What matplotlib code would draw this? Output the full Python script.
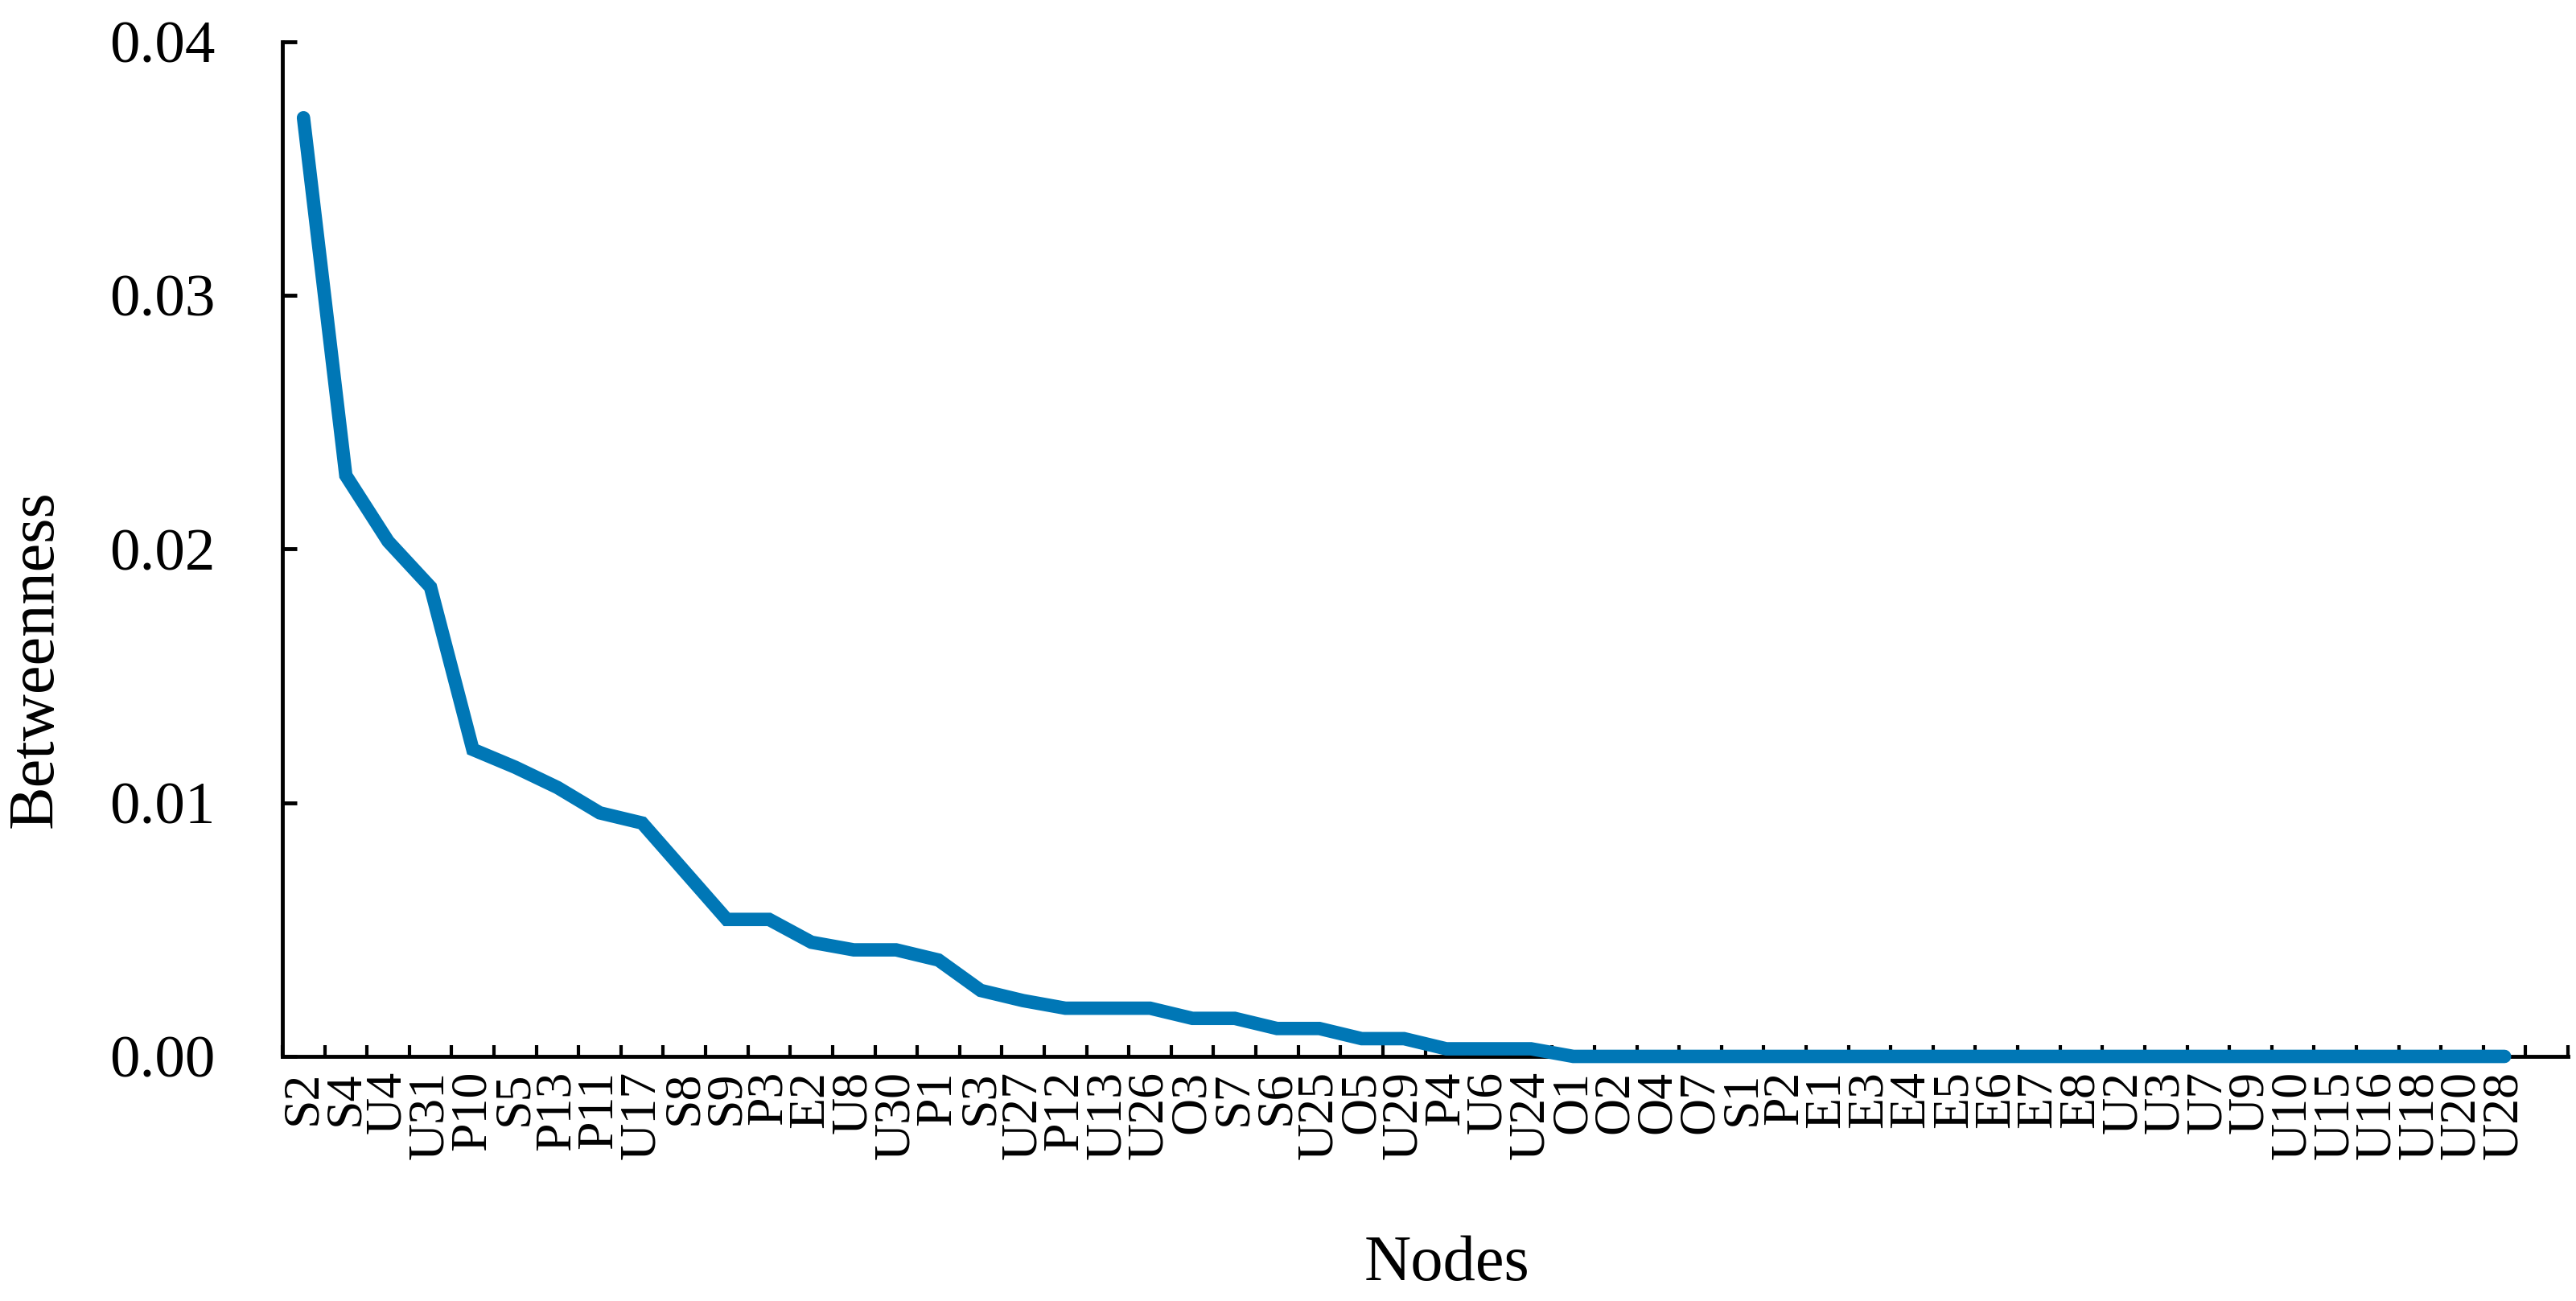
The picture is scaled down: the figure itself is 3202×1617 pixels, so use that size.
import numpy as np
import matplotlib
matplotlib.use("Agg")
import matplotlib.pyplot as plt

plt.rcParams['font.family'] = ['Liberation Serif', 'DejaVu Serif']

# node labels, in the order shown on the x axis
nodes = ['S2', 'S4', 'U4', 'U31', 'P10', 'S5', 'P13', 'P11', 'U17', 'S8',
         'S9', 'P3', 'E2', 'U8', 'U30', 'P1', 'S3', 'U27', 'P12', 'U13',
         'U26', 'O3', 'S7', 'S6', 'U25', 'O5', 'U29', 'P4', 'U6', 'U24',
         'O1', 'O2', 'O4', 'O7', 'S1', 'P2', 'E1', 'E3', 'E4', 'E5',
         'E6', 'E7', 'E8', 'U2', 'U3', 'U7', 'U9', 'U10', 'U15', 'U16',
         'U18', 'U20', 'U28']

# betweenness values
betweenness = [0.0370, 0.0229, 0.0203, 0.0185, 0.0121, 0.0114, 0.0106, 0.0096, 0.0092, 0.0073,
               0.0054, 0.0054, 0.0045, 0.0042, 0.0042, 0.0038, 0.0026, 0.0022, 0.0019, 0.0019,
               0.0019, 0.0015, 0.0015, 0.0011, 0.0011, 0.0007, 0.0007, 0.0003, 0.0003, 0.0003,
               0.0, 0.0, 0.0, 0.0, 0.0, 0.0, 0.0, 0.0, 0.0, 0.0,
               0.0, 0.0, 0.0, 0.0, 0.0, 0.0, 0.0, 0.0, 0.0, 0.0,
               0.0, 0.0, 0.0]

y_ticks = [0.00, 0.01, 0.02, 0.03, 0.04]

fig = plt.figure(figsize=(32.02, 16.17), dpi=100)
ax = fig.add_axes([0.1096, 0.188, 0.8873, 0.780])

x = np.arange(len(nodes))
ax.plot(x, betweenness, color='#0077b6', lw=12, solid_joinstyle='miter',
        solid_capstyle='round', zorder=3, clip_on=False)

n_slots = len(nodes) + 1  # axis runs one empty slot past the last node
ax.set_xlim(-0.5, n_slots - 0.5)
ax.set_ylim(0, 0.04)

for s in ['top', 'right']:
    ax.spines[s].set_visible(False)
for s in ['left', 'bottom']:
    ax.spines[s].set_linewidth(3.5)

# tick marks between categories, labels at centres
ax.set_xticks(np.arange(-0.5, n_slots, 1.0))
ax.set_xticklabels([])
ax.set_xticks(x, minor=True)
ax.set_xticklabels(nodes, minor=True, rotation=90, fontsize=46)
ax.tick_params(axis='x', which='major', direction='in', length=10, width=3)
ax.tick_params(axis='x', which='minor', length=0, pad=13)

ax.set_yticks(y_ticks)
ax.set_yticklabels([f'{v:.2f}' for v in y_ticks], fontsize=54)
ax.tick_params(axis='y', direction='in', length=13, width=3.5, pad=60)

fig.text(0.5616, 0.028, 'Nodes', fontsize=58, ha='center', va='center')
fig.text(0.014, 0.4935, 'Betweenness', fontsize=58, rotation=90, ha='center', va='center')

fig.savefig('out.png', dpi=100, facecolor='white')
